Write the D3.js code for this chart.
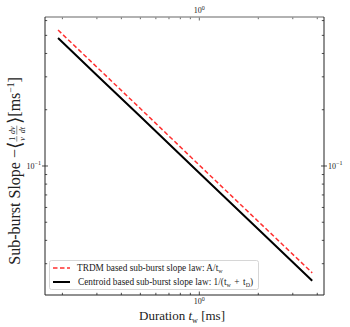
<!DOCTYPE html>
<html>
<head>
  <meta charset="UTF-8">
  <title></title>
  <style>
    body{ margin:0; background:#fff; }
    text{ font-family: 'Liberation Serif', 'DejaVu Serif', serif; fill:#222; }
    .tick-label{ font-size:8px; }
    .axis-title{ font-size:13px; }
    .legend text{ font-size:9.3px; }
  </style>
</head>
<body>
  <script src="https://cdnjs.cloudflare.com/ajax/libs/d3/7.8.5/d3.min.js"></script>
  <script>
/// data

// durations t_w [ms]
var durations = [0.19, 0.3, 0.5, 1, 2, 3.77];
// TRDM based slope law A/t_w
var trdmSlope = [0.534, 0.338, 0.203, 0.101, 0.0505, 0.0268];
// centroid based slope law 1/(t_w + t_D)
var centroidSlope = [0.484, 0.306, 0.184, 0.0918, 0.0459, 0.0243];

var xMajor = [1];
var xMinor = [0.2, 0.3, 0.4, 0.5, 0.6, 0.7, 0.8, 0.9, 2, 3, 4];
var yMajor = [0.1];
var yMinor = [0.03, 0.04, 0.05, 0.06, 0.07, 0.08, 0.09, 0.2, 0.3, 0.4, 0.5, 0.6];

/// layout

var width = 350, height = 327;
var box = {left: 45, right: 324, top: 17, bottom: 295};

var svg = d3.select("body").append("svg")
    .attr("width", width)
    .attr("height", height);

var x = d3.scaleLog().domain([0.163, 4.33]).range([box.left, box.right]);
var y = d3.scaleLog().domain([0.0204, 0.627]).range([box.bottom, box.top]);

// ticks, drawn inward on all four sides
function ticks(vals, len) {
  var g = svg.append("g").attr("stroke", "#222").attr("stroke-width", 0.8);
  vals.forEach(function(v) {
    g.append("line").attr("x1", x(v)).attr("x2", x(v)).attr("y1", box.bottom).attr("y2", box.bottom - len);
    g.append("line").attr("x1", x(v)).attr("x2", x(v)).attr("y1", box.top).attr("y2", box.top + len)
      .attr("stroke", "#444");
  });
}
function yticks(vals, len, both) {
  var g = svg.append("g").attr("stroke", "#222").attr("stroke-width", 0.8);
  vals.forEach(function(v) {
    var o = both ? len : 0;
    g.append("line").attr("y1", y(v)).attr("y2", y(v)).attr("x1", box.left - o).attr("x2", box.left + len);
    g.append("line").attr("y1", y(v)).attr("y2", y(v)).attr("x1", box.right + o).attr("x2", box.right - len);
  });
}
ticks(xMinor, 2.2);
ticks(xMajor, 3.5);
yticks(yMinor, 2.2, false);
yticks(yMajor, 3, true);

// spines
svg.append("line").attr("x1", box.left).attr("x2", box.right).attr("y1", box.top).attr("y2", box.top)
    .attr("stroke", "#999").attr("stroke-width", 1.6);
svg.append("path")
    .attr("d", "M" + box.left + "," + box.top + "V" + box.bottom + "H" + box.right + "V" + box.top)
    .attr("fill", "none").attr("stroke", "#222").attr("stroke-width", 1);

// tick labels (10^0 / 10^-1)
function pow(sel, exp) {
  sel.append("tspan").text("10");
  sel.append("tspan").attr("font-size", "6px").attr("dy", -3.5).text(exp);
}
xMajor.forEach(function(v) {
  svg.append("text").attr("class", "tick-label").attr("x", x(v)).attr("y", box.bottom + 9)
      .attr("text-anchor", "middle").call(pow, "0");
  svg.append("text").attr("class", "tick-label").attr("x", x(v)).attr("y", box.top - 4)
      .attr("text-anchor", "middle").call(pow, "0");
});
yMajor.forEach(function(v) {
  svg.append("text").attr("class", "tick-label").attr("x", box.left - 4).attr("y", y(v) + 3)
      .attr("text-anchor", "end").call(pow, "\u22121");
  svg.append("text").attr("class", "tick-label").attr("x", box.right + 4).attr("y", y(v) + 3)
      .call(pow, "\u22121");
});

// lines
var line = d3.line()
    .x(function(d, i) { return x(durations[i]); })
    .y(function(d) { return y(d); });

svg.append("path").datum(trdmSlope)
    .attr("d", line).attr("fill", "none")
    .attr("stroke", "#ff3030").attr("stroke-width", 1.5).attr("stroke-dasharray", "4.5,2.5");
svg.append("path").datum(centroidSlope)
    .attr("d", line).attr("fill", "none")
    .attr("stroke", "#000").attr("stroke-width", 2);

// axis titles
var xt = svg.append("text").attr("class", "axis-title")
    .attr("x", 182).attr("y", 320).attr("text-anchor", "middle");
xt.append("tspan").text("Duration ");
xt.append("tspan").attr("font-style", "italic").text("t");
xt.append("tspan").attr("font-size", "8px").attr("dy", 2.5).text("w");
xt.append("tspan").attr("dy", -2.5).text(" [ms]");

// y title, laid out piece by piece inside a rotated group
var yt = svg.append("g").attr("class", "axis-title");
var cursor = 0;
function piece(str, size, dy) {
  var t = yt.append("text").attr("x", cursor).attr("y", dy || 0)
      .attr("font-size", size + "px").text(str);
  cursor += t.node().getComputedTextLength();
  return t;
}
function frac(top, bot, w) {
  var f0 = cursor;
  yt.append("text").attr("x", f0 + w / 2).attr("y", -5.5).attr("text-anchor", "middle")
      .attr("font-size", "8px").attr("font-style", top == "1" ? null : "italic").text(top);
  yt.append("text").attr("x", f0 + w / 2).attr("y", 4.8).attr("text-anchor", "middle")
      .attr("font-size", "8px").attr("font-style", "italic").text(bot);
  yt.append("line").attr("x1", f0).attr("x2", f0 + w).attr("y1", -3.2).attr("y2", -3.2)
      .attr("stroke", "#222").attr("stroke-width", 0.5);
  cursor += w + 1.5;
}
piece("Sub-burst Slope \u2212", 16);
piece("\u27E8", 19, 1);
frac("1", "\u03BD", 5.5);
frac("d\u03BD", "dt", 9);
piece("\u27E9", 19, 1);
piece("[ms", 16);
piece("\u22121", 9.5, -6.5);
piece("]", 16);
// center the whole thing on the axis
yt.attr("transform", "translate(20,171) rotate(-90) translate(" + (-cursor / 2) + ",0)");

// legend
var lg = svg.append("g").attr("class", "legend");
lg.append("rect").attr("x", 49.5).attr("y", 260.5).attr("width", 209).attr("height", 29)
    .attr("rx", 2).attr("fill", "#fff").attr("fill-opacity", 0.8)
    .attr("stroke", "#ccc").attr("stroke-width", 0.8);
lg.append("line").attr("x1", 53).attr("x2", 70).attr("y1", 268).attr("y2", 268)
    .attr("stroke", "#ff3030").attr("stroke-width", 1.5).attr("stroke-dasharray", "4.5,2.5");
lg.append("line").attr("x1", 53).attr("x2", 70).attr("y1", 282).attr("y2", 282)
    .attr("stroke", "#000").attr("stroke-width", 2);

var l1 = lg.append("text").attr("x", 77).attr("y", 271);
l1.append("tspan").text("TRDM based sub-burst slope law: A/t");
l1.append("tspan").attr("font-size", "6px").attr("dy", 1.8).text("w");

var l2 = lg.append("text").attr("x", 78).attr("y", 285);
l2.append("tspan").text("Centroid based sub-burst slope law: 1/(t");
l2.append("tspan").attr("font-size", "6px").attr("dy", 1.8).text("w");
l2.append("tspan").attr("dy", -1.8).attr("dx", 3.5).text("+");
l2.append("tspan").attr("dx", 3.5).text("t");
l2.append("tspan").attr("font-size", "6px").attr("dy", 1.8).text("D");
l2.append("tspan").attr("dy", -1.8).text(")");
  </script>
</body>
</html>
